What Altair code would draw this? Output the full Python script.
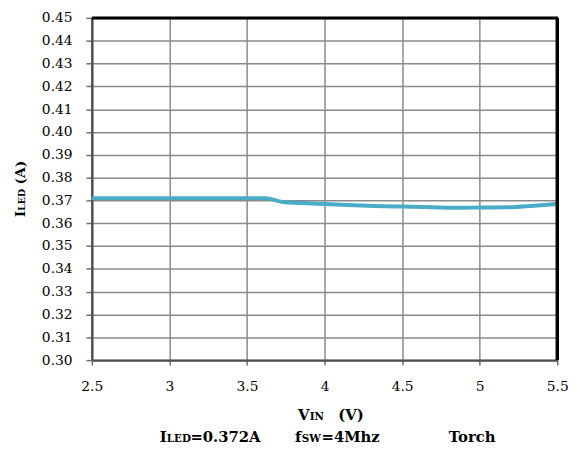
import altair as alt
import pandas as pd

vin = [2.5, 2.8, 3.0, 3.3, 3.5, 3.62, 3.73, 3.85, 4.0, 4.15, 4.32, 4.5, 4.7, 4.9, 5.0, 5.17, 5.35, 5.5]
iled = [0.3710, 0.3710, 0.3710, 0.3710, 0.3710, 0.3710, 0.3693, 0.3689, 0.3684, 0.3680, 0.3676, 0.3673, 0.3670, 0.3668, 0.3669, 0.3670, 0.3677, 0.3684]

x_ticks = [2.5, 3.0, 3.5, 4.0, 4.5, 5.0, 5.5]
y_ticks = [round(0.30 + 0.01 * i, 2) for i in range(16)]

df = pd.DataFrame({"vin": vin, "iled": iled})

W, H = 472, 347
TOP = 7
FONT = "DejaVu Serif"
one = alt.Data(values=[{"a": 1}])

line = alt.Chart(df).mark_line(color="#4BACC6", strokeWidth=4, interpolate="monotone").encode(
    x=alt.X("vin:Q", scale=alt.Scale(domain=[2.5, 5.5], nice=False),
            axis=alt.Axis(values=x_ticks, title=None, labelExpr="datum.value",
                          grid=True, gridColor="#8a8a8a", gridWidth=1.5,
                          domainColor="#505050", domainWidth=2.5,
                          tickColor="#707070", tickSize=5, tickWidth=1.5,
                          labelFont=FONT, labelFontSize=14, labelColor="#000000",
                          labelFlush=False, labelPadding=15)),
    y=alt.Y("iled:Q", scale=alt.Scale(domain=[0.30, 0.45], nice=False, zero=False),
            axis=alt.Axis(values=y_ticks, format=".2f", title=None,
                          grid=True, gridColor="#8a8a8a", gridWidth=1.5,
                          domainColor="#505050", domainWidth=2.5,
                          tickColor="#707070", tickSize=6, tickWidth=1.5,
                          labelFont=FONT, labelFontSize=14, labelColor="#000000",
                          labelFlush=False, labelPadding=14)),
)

top_border = alt.Chart(one).mark_rule(color="#000000", strokeWidth=3).encode(
    x=alt.value(0), x2=alt.value(W + 1), y=alt.value(0))
right_border = alt.Chart(one).mark_rule(color="#000000", strokeWidth=3.5).encode(
    x=alt.value(W), y=alt.value(0), y2=alt.value(H))

OFF = 8 + TOP  # page y of plot top


def txt(s, x, page_y, size, angle=0, align="left"):
    return alt.Chart(one).mark_text(
        text=s, font=FONT, fontSize=size, fontWeight="bold", color="#000000",
        align=align, baseline="alphabetic", angle=angle,
    ).encode(x=alt.value(x), y=alt.value(page_y - OFF))


# y axis title (rotated), pieces to mimic small caps
ytitle = [
    txt("I", -68, 217, 14, 270),
    txt("LED", -68, 210.5, 9.5, 270),
    txt("(A)", -68, 184, 14, 270),
]
# x axis title
xtitle = [
    txt("V", 209, 423, 15),
    txt("IN", 221, 423, 10.5),
    txt("(V)", 250, 423, 15),
]
# bottom caption
caption = [
    txt("I", 69, 445, 15),
    txt("LED", 76, 445, 10.5),
    txt("=0.372A", 100, 445, 15),
    txt("f", 206, 445, 15),
    txt("SW", 213, 445, 10.5),
    txt("=4Mhz", 233, 445, 15),
    txt("Torch", 362, 445, 15),
]

chart = alt.layer(line, top_border, right_border, *ytitle, *xtitle, *caption).properties(
    width=W, height=H,
    autosize=alt.AutoSizeParams(type="none"),
    padding={"left": 85, "top": TOP, "right": 20, "bottom": 83},
).configure_view(stroke=None).configure(background="#ffffff")

chart.save("out.html", embed_options={"renderer": "svg", "actions": False})
